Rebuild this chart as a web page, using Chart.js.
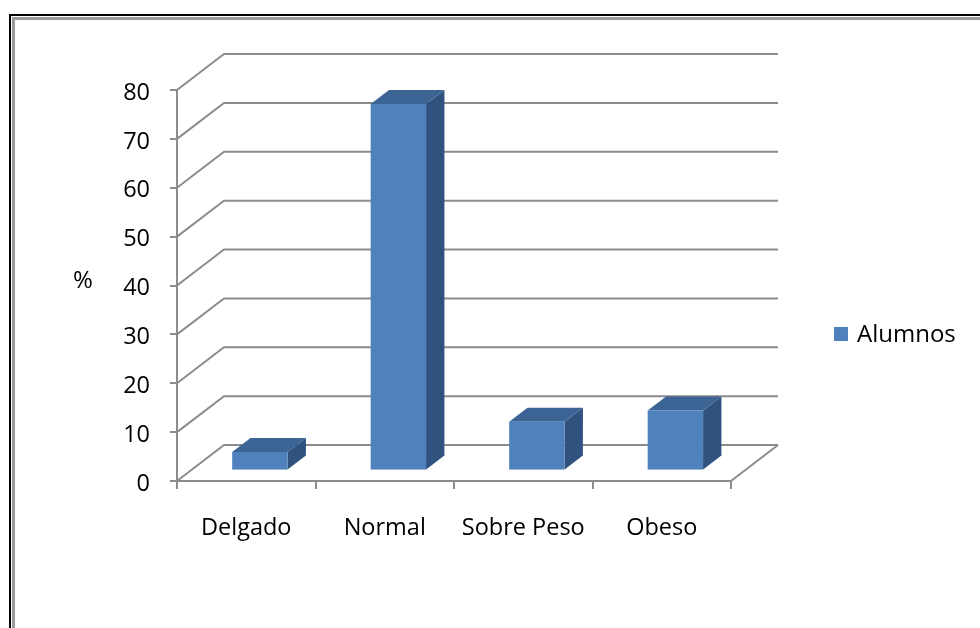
<!DOCTYPE html>
<html>
<head>
<meta charset="utf-8">
<script src="https://cdn.jsdelivr.net/npm/chart.js@4"></script>
<style>
  html, body { margin: 0; padding: 0; background: #fff; overflow: hidden; }
  .frame { position: absolute; left: 9px; top: 14px; width: 2000px; height: 2000px;
           border-left: 2px solid #000; border-top: 2px solid #000; }
  .frame::after { content: ''; position: absolute; left: 1px; top: 1px; width: 2000px; height: 2000px;
           border-left: 3px solid #9c9c9c; border-top: 3px solid #9c9c9c; }
  #wrap { position: absolute; left: 0; top: 0; width: 980px; height: 628px; }
</style>
</head>
<body>
<div class="frame"></div>
<div id="wrap"><canvas id="myChart"></canvas></div>
<script>
const categories = ['Delgado', 'Normal', 'Sobre Peso', 'Obeso']
const alumnos = [3.8, 75.0, 10.0, 12.3]
const seriesName = 'Alumnos'
const axisTitle = '%'

const FONT = "'Open Sans', sans-serif"
const GRID = '#8c8c8c'
// oblique offset of the back wall, in px
const DX = 47, DY = -36
// bars sit at this fraction of the depth, and this deep
const BAR_FRONT = 0.29, BAR_DEPTH = 0.39
const FRONT = '#4f81bd', TOP = '#3c6494', SIDE = '#30527f'

const wall3d = {
    id: 'wall3d',
    beforeDatasetsDraw(chart) {
        const {ctx, chartArea: a, scales: {y}} = chart
        ctx.save()
        ctx.strokeStyle = GRID
        ctx.lineWidth = 2
        y.ticks.forEach(t => {
            const py = y.getPixelForValue(t.value)
            ctx.beginPath()
            ctx.moveTo(a.left, py)
            ctx.lineTo(a.left + DX, py + DY)
            ctx.lineTo(a.right + DX, py + DY)
            ctx.stroke()
        })
        // right edge of the floor
        const p0 = y.getPixelForValue(0)
        ctx.beginPath()
        ctx.moveTo(a.right, p0)
        ctx.lineTo(a.right + DX, p0 + DY)
        ctx.stroke()
        ctx.restore()
    },
    afterDatasetsDraw(chart) {
        const {ctx} = chart
        const ox = DX * BAR_FRONT, oy = DY * BAR_FRONT
        const bx = DX * BAR_DEPTH, by = DY * BAR_DEPTH
        ctx.save()
        chart.getDatasetMeta(0).data.forEach(bar => {
            const l = bar.x - bar.width / 2 + ox
            const r = l + bar.width
            const t = bar.y + oy
            const b = bar.base + oy
            ctx.fillStyle = SIDE
            ctx.beginPath()
            ctx.moveTo(r, t); ctx.lineTo(r + bx, t + by); ctx.lineTo(r + bx, b + by); ctx.lineTo(r, b)
            ctx.closePath(); ctx.fill()
            ctx.fillStyle = TOP
            ctx.beginPath()
            ctx.moveTo(l, t); ctx.lineTo(l + bx, t + by); ctx.lineTo(r + bx, t + by); ctx.lineTo(r, t)
            ctx.closePath(); ctx.fill()
            ctx.fillStyle = FRONT
            ctx.fillRect(l, t, bar.width, b - t)
        })
        ctx.restore()
    },
    afterDraw(chart) {
        const {ctx} = chart
        ctx.save()
        ctx.fillStyle = '#000'
        ctx.font = '24px ' + FONT
        ctx.textBaseline = 'middle'
        ctx.textAlign = 'center'
        ctx.fillText(axisTitle, 83, 281)
        // legend
        ctx.fillStyle = FRONT
        ctx.fillRect(834, 327, 14, 14)
        ctx.fillStyle = '#000'
        ctx.textAlign = 'left'
        ctx.fillText(seriesName, 857, 335)
        ctx.restore()
    }
}

const config = {
    type: 'bar',
    data: {
        labels: categories,
        datasets: [{
            label: seriesName,
            data: alumnos,
            backgroundColor: 'rgba(0,0,0,0)',
            borderWidth: 0,
            categoryPercentage: 1,
            barPercentage: 0.4
        }]
    },
    options: {
        responsive: true,
        maintainAspectRatio: false,
        animation: false,
        events: [],
        layout: {
            padding: {left: 0, top: 90, right: 249, bottom: 0}
        },
        plugins: {
            legend: {display: false},
            tooltip: {enabled: false}
        },
        scales: {
            x: {
                grid: {drawOnChartArea: false, color: GRID, lineWidth: 2, tickLength: 8},
                border: {color: GRID, width: 2},
                ticks: {color: '#000', font: {family: FONT, size: 23.5}, padding: 25},
                afterFit: s => { s.height = 147 }
            },
            y: {
                min: 0,
                max: 80,
                ticks: {stepSize: 10, color: '#000', font: {family: FONT, size: 23.5}, padding: 20, labelOffset: 3},
                grid: {drawOnChartArea: false, color: GRID, lineWidth: 2, tickLength: 7},
                border: {color: GRID, width: 2},
                afterFit: s => { s.width = 177 }
            }
        }
    },
    plugins: [wall3d]
}

new Chart(document.getElementById('myChart'), config)
</script>
</body>
</html>
